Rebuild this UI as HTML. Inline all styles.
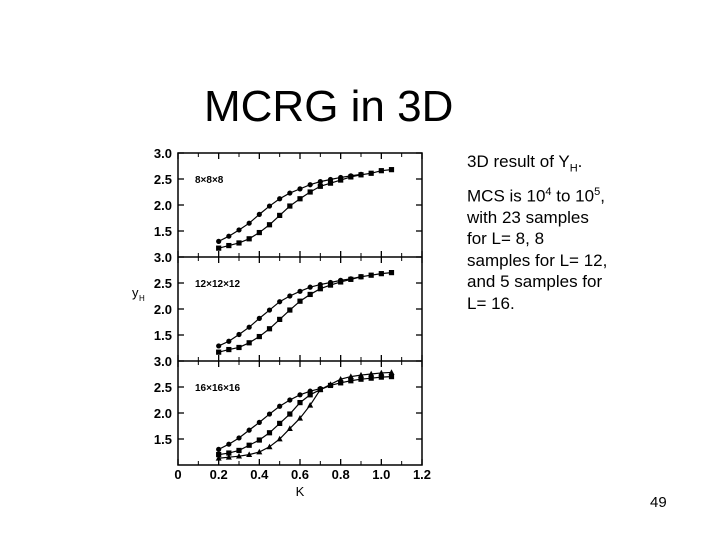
<!DOCTYPE html>
<html><head><meta charset="utf-8"><style>
body{margin:0;background:#fff;width:720px;height:540px;overflow:hidden;position:relative;font-family:"Liberation Sans",sans-serif}
#title{position:absolute;left:204px;top:82px;font-size:44px;color:#000;white-space:nowrap}
.t{position:absolute;left:467px;font-size:17px;white-space:nowrap;color:#000}
#pg{position:absolute;left:650px;top:494px;font-size:15px}
svg{position:absolute;left:0;top:0}
</style></head><body>
<div id="title">MCRG in 3D</div>
<div class="t" style="top:152px">3D result of Y<sub style="font-size:11px">H</sub>.</div>
<div class="t" style="top:186px">MCS is 10<sup style="font-size:11px">4</sup> to 10<sup style="font-size:11px">5</sup>,</div>
<div class="t" style="top:208px">with 23 samples</div>
<div class="t" style="top:229px">for L= 8, 8</div>
<div class="t" style="top:251px">samples for L= 12,</div>
<div class="t" style="top:272px">and 5 samples for</div>
<div class="t" style="top:294px">L= 16.</div>
<div id="pg">49</div>
<svg id="c" width="720" height="540"></svg>
<script>
const xs=[0.2,0.25,0.3,0.35,0.4,0.45,0.5,0.55,0.6,0.65,0.7,0.75,0.8,0.85,0.9,0.95,1.0,1.05];
const p1Circles=[1.3,1.4,1.52,1.65,1.82,1.98,2.12,2.23,2.31,2.39,2.45,2.49,2.53,2.56,2.59];
const p1Squares=[1.17,1.22,1.27,1.35,1.47,1.62,1.8,1.98,2.12,2.25,2.36,2.42,2.48,2.54,2.58,2.61,2.66,2.68];
const p2Circles=[1.29,1.38,1.51,1.65,1.82,1.98,2.14,2.25,2.34,2.42,2.47,2.51,2.55,2.58,2.62];
const p2Squares=[1.17,1.22,1.26,1.35,1.47,1.62,1.8,1.98,2.15,2.28,2.39,2.46,2.52,2.57,2.62,2.65,2.68,2.7];
const p3Circles=[1.3,1.4,1.52,1.67,1.82,1.98,2.13,2.25,2.35,2.42,2.47];
const p3Squares=[1.2,1.23,1.28,1.38,1.48,1.62,1.8,1.98,2.2,2.35,2.45,2.53,2.58,2.62,2.65,2.67,2.69,2.7];
const p3Triangles=[1.13,1.15,1.17,1.2,1.25,1.35,1.5,1.7,1.9,2.15,2.45,2.55,2.65,2.7,2.73,2.75,2.77,2.78];
const xTicks=[0,0.2,0.4,0.6,0.8,1.0,1.2];
const xTickLabels=["0","0.2","0.4","0.6","0.8","1.0","1.2"];
const yTicks=[3.0,2.5,2.0,1.5];
const yTickLabels=["3.0","2.5","2.0","1.5"];
const panelLabels=["8\u00d78\u00d78","12\u00d712\u00d712","16\u00d716\u00d716"];
const svg=document.getElementById('c');const NS='http://www.w3.org/2000/svg';
const L=178,R=422,T=153,PH=104;
const X=v=>L+v/1.2*(R-L);
const Y=(p,v)=>T+p*PH+(3.0-v)/2.0*PH;
function mk(t,a,name){const e=document.createElementNS(NS,t);for(const k in a)e.setAttribute(k,a[k]);


svg.appendChild(e);return e;}
mk('rect',{x:L,y:T,width:R-L,height:3*PH,fill:'none',stroke:'#000','stroke-width':1.5},'plot-frame');
for(let p=1;p<3;p++)mk('line',{x1:L,x2:R,y1:T+p*PH,y2:T+p*PH,stroke:'#000','stroke-width':1.5},'panel-divider');
for(let p=0;p<3;p++){
 xTicks.forEach(v=>{mk('line',{x1:X(v),x2:X(v),y1:T+p*PH+PH,y2:T+p*PH+PH-6,stroke:'#000','stroke-width':1.3},'x-tick');
  mk('line',{x1:X(v),x2:X(v),y1:T+p*PH,y2:T+p*PH+6,stroke:'#000','stroke-width':1.3},'x-tick');});
 [0.1,0.3,0.5,0.7,0.9,1.1].forEach(v=>{mk('line',{x1:X(v),x2:X(v),y1:T+p*PH+PH,y2:T+p*PH+PH-4,stroke:'#000'},'x-minor-tick');
  mk('line',{x1:X(v),x2:X(v),y1:T+p*PH,y2:T+p*PH+4,stroke:'#000'},'x-minor-tick');});
 yTicks.forEach((v,i)=>{mk('line',{x1:L,x2:L+6,y1:Y(p,v),y2:Y(p,v),stroke:'#000','stroke-width':1.3},'y-tick');
  mk('line',{x1:R,x2:R-6,y1:Y(p,v),y2:Y(p,v),stroke:'#000','stroke-width':1.3},'y-tick');
  const t=mk('text',{x:L-6,y:Y(p,v)+5,'text-anchor':'end','font-size':13,'font-weight':'bold'},'y-tick-label');t.textContent=yTickLabels[i];});
 const pl=mk('text',{x:195,y:Y(p,2.5)+4,'font-size':10,'font-weight':'bold'},'panel-label');pl.textContent=panelLabels[p];
}
xTicks.forEach((v,i)=>{const t=mk('text',{x:X(v),y:479,'text-anchor':'middle','font-size':13,'font-weight':'bold'},'x-tick-label');t.textContent=xTickLabels[i];});
const xt=mk('text',{x:X(0.6),y:496,'text-anchor':'middle','font-size':13},'x-axis-title');xt.textContent='K';
const yt=mk('text',{x:132,y:297,'font-size':13},'y-axis-title');yt.textContent='y';
const ys=mk('text',{x:139,y:301,'font-size':8},'y-axis-title-sub');ys.textContent='H';
function series(p,vals,shape,name){
 const pts=vals.map((v,i)=>[X(xs[i]),Y(p,v)]);
 mk('polyline',{points:pts.map(q=>q.join(',')).join(' '),fill:'none',stroke:'#000','stroke-width':1.2},name+'-line');
 pts.forEach(([x,y])=>{
  if(shape==='c')mk('circle',{cx:x,cy:y,r:2.6,fill:'#000'},name+'-point');
  else if(shape==='s')mk('rect',{x:x-2.6,y:y-2.6,width:5.2,height:5.2,fill:'#000'},name+'-point');
  else mk('polygon',{points:`${x},${y-3.2} ${x-3},${y+2.4} ${x+3},${y+2.4}`,fill:'#000'},name+'-point');
 });
}
series(0,p1Circles,'c','p1-circles');series(0,p1Squares,'s','p1-squares');
series(1,p2Circles,'c','p2-circles');series(1,p2Squares,'s','p2-squares');
series(2,p3Circles,'c','p3-circles');series(2,p3Squares,'s','p3-squares');series(2,p3Triangles,'t','p3-triangles');
</script>
</body></html>
